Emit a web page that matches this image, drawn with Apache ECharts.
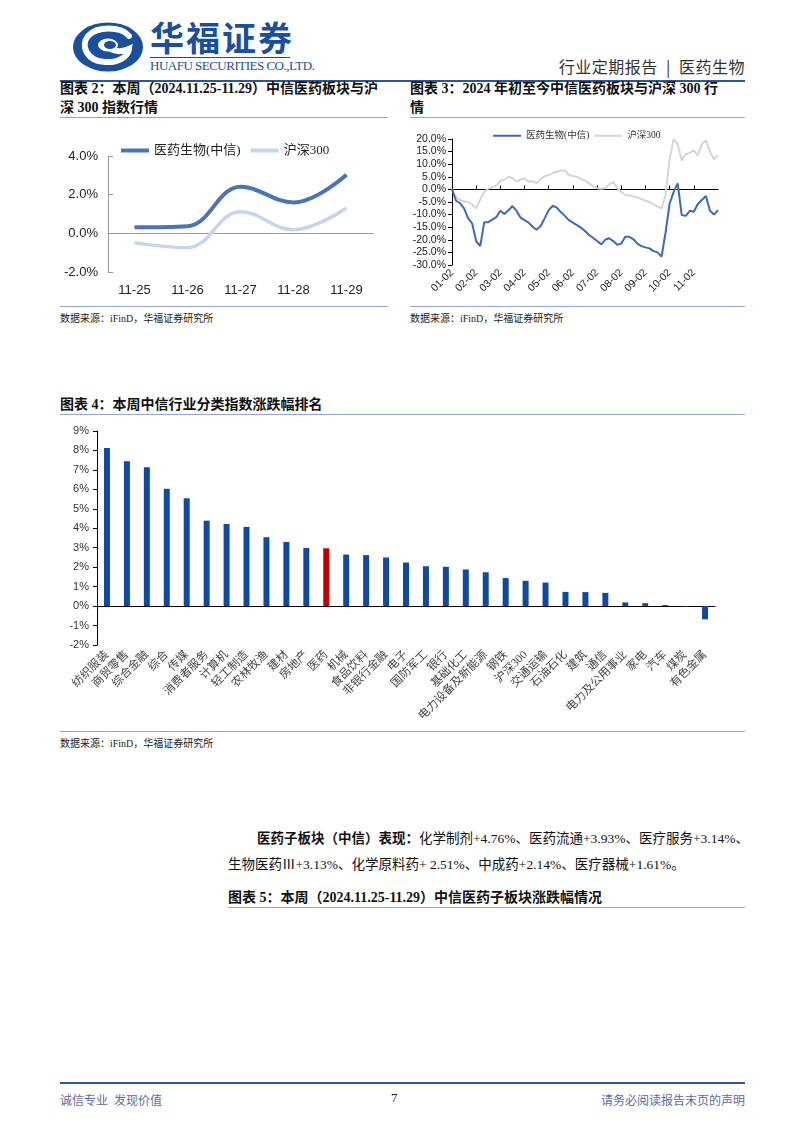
<!DOCTYPE html>
<html><head><meta charset="utf-8">
<script src="https://cdn.jsdelivr.net/npm/echarts@6/dist/echarts.min.js"></script>
<style>
body{margin:0;width:802px;height:1133px;background:#fff;position:relative;overflow:hidden;font-family:'Liberation Serif','Noto Sans CJK SC',serif;color:#111}
.abs{position:absolute}
.ttl{position:absolute;font-size:14px;font-weight:700;line-height:19px;color:#111;border-bottom:1px solid #8fa7d4;white-space:nowrap}
.src{position:absolute;font-size:10px;color:#222;border-top:1px solid #8fa7d4;padding-top:3px;white-space:nowrap}
</style></head><body>
<!-- header -->
<svg class="abs" style="left:71px;top:21px" width="76" height="52" viewBox="0 0 76 52">
  <ellipse cx="37" cy="26" rx="35" ry="24.5" fill="#1a4f9e"/>
  <path d="M58 15 C50 5 26 5 17 15 C9 25 16 40 34 41 C47 42 57 36 58 28 C52 31 44 31 38 27" fill="none" stroke="#fff" stroke-width="6" stroke-linecap="round"/>
  <ellipse cx="37" cy="24" rx="10" ry="6.5" fill="#fff"/>
  <ellipse cx="39" cy="24" rx="6" ry="4" fill="#1a4f9e"/>
</svg>
<div class="abs" style="left:150px;top:17px;font-size:34px;font-weight:700;color:#1a4f9e;letter-spacing:2px;font-family:'Noto Sans CJK SC',serif;line-height:40px">华福证券</div>
<div class="abs" style="left:150px;top:57px;width:140px;border-top:1px solid #1a4f9e"></div>
<div class="abs" style="left:150px;top:58px;font-size:13px;color:#1a4f9e;letter-spacing:-0.5px;font-family:'Liberation Serif',serif;white-space:nowrap">HUAFU SECURITIES CO.,LTD.</div>
<div class="abs" style="right:57px;top:54px;font-size:16px;color:#333;font-family:'Noto Sans CJK SC',serif;white-space:nowrap;letter-spacing:0.5px">行业定期报告 &nbsp;|&nbsp; 医药生物</div>
<div class="abs" style="left:60px;top:80px;width:685px;height:2px;background:#2f5597"></div>

<!-- titles -->
<div class="ttl" style="left:60px;top:79px;width:328px;height:38px">图表 2：本周（2024.11.25-11.29）中信医药板块与沪<br>深 300 指数行情</div>
<div class="ttl" style="left:410px;top:79px;width:335px;height:38px">图表 3：2024 年初至今中信医药板块与沪深 300 行<br>情</div>

<div id="c2" class="abs" style="left:60px;top:120px;width:330px;height:185px"></div>
<div id="c3" class="abs" style="left:400px;top:120px;width:345px;height:185px"></div>

<div class="src" style="left:60px;top:306px;width:328px">数据来源：iFinD，华福证券研究所</div>
<div class="src" style="left:410px;top:306px;width:335px">数据来源：iFinD，华福证券研究所</div>

<div class="ttl" style="left:60px;top:395px;width:685px;height:19px">图表 4：本周中信行业分类指数涨跌幅排名</div>
<div id="c4" class="abs" style="left:60px;top:415px;width:690px;height:315px"></div>
<div class="src" style="left:60px;top:731px;width:685px">数据来源：iFinD，华福证券研究所</div>

<div class="abs" style="left:228px;top:826px;font-size:13.5px;line-height:26px;white-space:nowrap;color:#111">
<span style="padding-left:29px"><b>医药子板块（中信）表现：</b>化学制剂+4.76%、医药流通+3.93%、医疗服务+3.14%、</span><br>
<span>生物医药Ⅲ+3.13%、化学原料药+ 2.51%、中成药+2.14%、医疗器械+1.61%。</span>
</div>

<div class="ttl" style="left:228px;top:888px;width:517px;height:19px">图表 5：本周（2024.11.25-11.29）中信医药子板块涨跌幅情况</div>

<!-- footer -->
<div class="abs" style="left:60px;top:1082px;width:685px;height:2px;background:#2f5597"></div>
<div class="abs" style="left:60px;top:1091px;font-size:12px;color:#5b6d9c;white-space:nowrap">诚信专业&nbsp;&nbsp;发现价值</div>
<div class="abs" style="left:391px;top:1090px;font-size:13px;color:#222">7</div>
<div class="abs" style="right:57px;top:1091px;font-size:12px;color:#5b6d9c;white-space:nowrap">请务必阅读报告末页的声明</div>

<script>
// ---------- Chart 2 data ----------
const days2 = ['11-25','11-26','11-27','11-28','11-29'];
const pharma2 = [0.31, 0.37, 2.41, 1.60, 3.03];
const hs300_2 = [-0.48, -0.74, 1.12, 0.19, 1.31];

// ---------- Chart 3 data ----------
const dates3 = [
 '01-02','01-07','01-12','01-17','01-22','01-27',
 '02-02','02-07','02-12','02-17','02-22','02-27',
 '03-02','03-07','03-12','03-17','03-22','03-27',
 '04-02','04-07','04-12','04-17','04-22','04-27',
 '05-02','05-07','05-12','05-17','05-22','05-27',
 '06-02','06-07','06-12','06-17','06-22','06-27',
 '07-02','07-07','07-12','07-17','07-22','07-27',
 '08-02','08-07','08-12','08-17','08-22','08-27',
 '09-02','09-07','09-12','09-17','09-22','09-27',
 '10-02','10-07','10-12','10-17','10-22','10-27',
 '11-02','11-07','11-12','11-17','11-22','11-27','11-29'];
const pharma3 = [
 0, -4.5, -5.5, -7.5, -11.5, -13.5,
 -20.5, -22.5, -13, -13, -12, -11,
 -8.5, -9.8, -8.3, -6.6, -8.5, -11.2,
 -12.2, -13.2, -14.8, -16, -14.5, -11.5,
 -8.2, -6.5, -7.2, -9, -10.5, -12.2,
 -13.2, -14.2, -15.2, -16.5, -18.1, -19.2,
 -20.5, -21.8, -20, -19.4, -20.5, -22,
 -21.5, -18.8, -18.8, -19.8, -21.5, -22.5,
 -23, -23.4, -24.5, -25, -26.7, -17,
 -5.6, -1, 2.4, -10.2, -10.5, -8.5,
 -8.9, -5.8, -4.2, -2.6, -8.5, -10, -8.2];
const hs300_3 = [
 0, -3, -4.2, -4.8, -5, -6,
 -7.5, -4, -1, 0.3, 1, 1.5,
 3.5, 3.8, 5, 4.5, 3.2, 3.8,
 4.3, 3, 3.3, 2.5, 4.2, 5.2,
 5.7, 6.5, 7, 7.5, 7.5, 5.7,
 5.3, 5, 4.2, 3.5, 2.4, 1.2,
 0.5, 0.3, 0.5, 2, 3, 0.5,
 -1, -2.3, -2.3, -2.8, -3.2, -3.8,
 -4.5, -5, -6, -6.8, -7.5, -2,
 12, 20, 18, 11.5, 14, 14.5,
 15.5, 13.5, 18, 19.5, 15, 12, 13.5];

// ---------- Chart 4 data ----------
const cats4 = ['纺织服装','商贸零售','综合金融','综合','传媒','消费者服务','计算机','轻工制造','农林牧渔','建材','房地产','医药','机械','食品饮料','非银行金融','电子','国防军工','银行','基础化工','电力设备及新能源','钢铁','沪深300','交通运输','石油石化','建筑','通信','电力及公用事业','家电','汽车','煤炭','有色金属'];
const vals4 = [8.12, 7.45, 7.14, 6.03, 5.54, 4.39, 4.22, 4.07, 3.54, 3.30, 2.99, 2.97, 2.65, 2.62, 2.50, 2.24, 2.05, 2.02, 1.88, 1.74, 1.44, 1.30, 1.21, 0.73, 0.72, 0.68, 0.19, 0.15, 0.05, -0.03, -0.68];
const highlight4 = '医药';

const latin = "'Liberation Sans', Arial, 'Noto Sans CJK SC', sans-serif";
const cjk = "'Liberation Serif','Noto Sans CJK SC', serif";

// Chart 2
const c2 = echarts.init(document.getElementById('c2'));
c2.setOption({
  animation:false,
  legend:{top:19,left:56,itemWidth:28,itemHeight:4,itemGap:10,
    textStyle:{fontSize:13,color:'#222',fontFamily:cjk},
    data:[{name:'医药生物(中信)',icon:'rect'},{name:'沪深300',icon:'rect'}]},
  grid:{left:48,top:36,right:17,bottom:33},
  xAxis:{type:'category',data:days2,boundaryGap:true,
    axisLine:{lineStyle:{color:'#9a9a9a'}},
    axisTick:{inside:true,length:5,lineStyle:{color:'#9a9a9a'}},
    axisLabel:{fontSize:13,color:'#222',fontFamily:latin,margin:12}},
  yAxis:{type:'value',min:-2,max:4,interval:2,splitLine:{show:false},
    axisLine:{show:true,lineStyle:{color:'#9a9a9a'}},
    axisTick:{show:true,inside:true,length:5,lineStyle:{color:'#9a9a9a'}},
    axisLabel:{fontSize:13,color:'#222',fontFamily:latin,margin:10,formatter:v=>v.toFixed(1)+'%'}},
  series:[
    {name:'医药生物(中信)',type:'line',data:pharma2,smooth:0.4,symbol:'none',
     lineStyle:{width:4,color:'#4a74b6'},itemStyle:{color:'#4a74b6'},z:3},
    {name:'沪深300',type:'line',data:hs300_2,smooth:0.4,symbol:'none',
     lineStyle:{width:3.5,color:'#c5d5eb'},itemStyle:{color:'#c5d5eb'},z:2}
  ]
});

// Chart 3
const isMonth = (i,v)=> v.endsWith('-02');
const c3 = echarts.init(document.getElementById('c3'));
c3.setOption({
  animation:false,
  legend:{top:6,left:88,itemWidth:28,itemHeight:2,itemGap:5,
    textStyle:{fontSize:9.5,color:'#333',fontFamily:cjk},
    data:[{name:'医药生物(中信)',icon:'rect'},{name:'沪深300',icon:'rect'}]},
  grid:{left:52,top:19,right:27,bottom:40},
  xAxis:[
    {type:'category',data:dates3,boundaryGap:false,
      axisLine:{onZero:true,lineStyle:{color:'#000',width:1}},
      axisTick:{inside:true,length:4,interval:isMonth,lineStyle:{color:'#000'}},
      axisLabel:{show:false}},
    {type:'category',data:dates3,boundaryGap:false,position:'bottom',
      axisLine:{show:false,onZero:false},axisTick:{show:false},
      axisLabel:{interval:isMonth,rotate:45,fontSize:10.5,color:'#222',fontFamily:latin,margin:6}}
  ],
  yAxis:{type:'value',min:-30,max:20,interval:5,splitLine:{show:false},
    axisLine:{show:true,lineStyle:{color:'#000'}},
    axisTick:{show:true,length:4,lineStyle:{color:'#000'}},
    axisLabel:{fontSize:10.5,color:'#222',fontFamily:latin,margin:6,formatter:v=>v.toFixed(1)+'%'}},
  series:[
    {name:'医药生物(中信)',type:'line',xAxisIndex:0,data:pharma3,symbol:'none',
     lineStyle:{width:2,color:'#3f68b8'},itemStyle:{color:'#3f68b8'},z:3},
    {name:'沪深300',type:'line',xAxisIndex:0,data:hs300_3,symbol:'none',
     lineStyle:{width:2,color:'#d3d5da'},itemStyle:{color:'#d3d5da'},z:2}
  ]
});

// Chart 4
const c4 = echarts.init(document.getElementById('c4'));
c4.setOption({
  animation:false,
  grid:{left:37,top:16,right:35,bottom:85},
  xAxis:[
    {type:'category',data:cats4,boundaryGap:true,
      axisLine:{onZero:true,lineStyle:{color:'#000'}},
      axisTick:{inside:true,length:4,lineStyle:{color:'#000'}},
      axisLabel:{show:false}},
    {type:'category',data:cats4,boundaryGap:true,position:'bottom',
      axisLine:{show:false,onZero:false},axisTick:{show:false},
      axisLabel:{interval:0,rotate:45,fontSize:11.5,color:'#444',fontFamily:cjk,margin:8}}
  ],
  yAxis:{type:'value',min:-2,max:9,interval:1,splitLine:{show:false},
    axisLine:{show:true,lineStyle:{color:'#000'}},
    axisTick:{show:true,length:4,lineStyle:{color:'#000'}},
    axisLabel:{fontSize:11,color:'#333',fontFamily:latin,margin:8,formatter:v=>v+'%'}},
  series:[{type:'bar',xAxisIndex:0,barWidth:6,
    data:vals4.map((v,i)=>({value:v,itemStyle:{color:cats4[i]===highlight4?'#c00000':'#0e4ba0'}}))}]
});
</script>
</body></html>
